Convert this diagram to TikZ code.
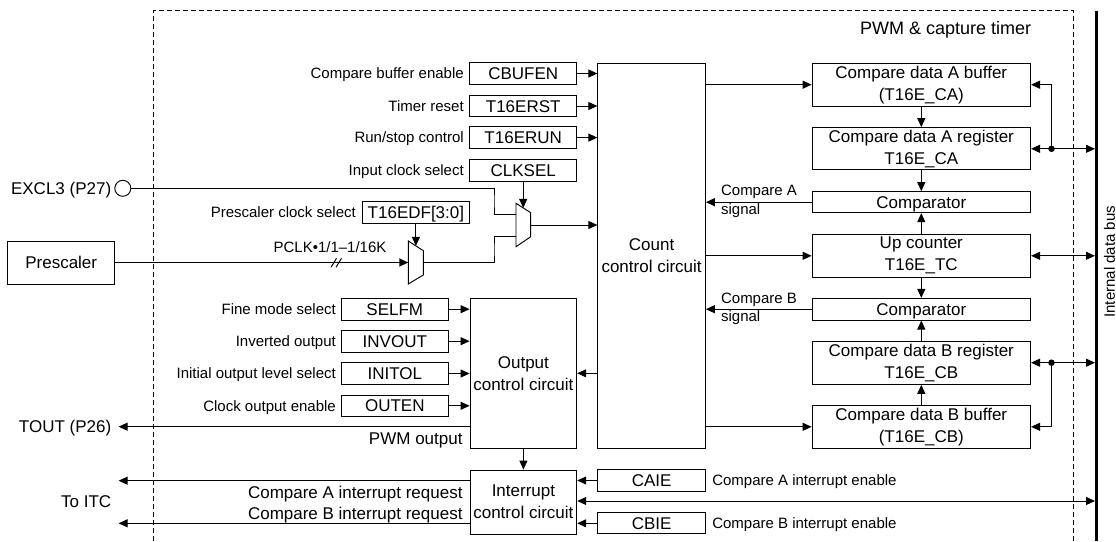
\documentclass[tikz,border=0pt]{standalone}
\usepackage{fontspec}
\setmainfont{Liberation Sans}
\usetikzlibrary{arrows.meta,calc}
\newcommand\fsS{\fontsize{15}{18.4}\selectfont}
\newcommand\fsN{\fontsize{17}{22}\selectfont}
\newcommand\fsT{\fontsize{18}{22}\selectfont}
\begin{document}
\begin{tikzpicture}[x=1pt,y=-1pt,
  line width=0.95pt,
  box/.style={draw, inner sep=0pt, align=center, font=\fsN},
  reg/.style={box, minimum width=107pt, minimum height=21.6pt, text height=12.2pt, text depth=0pt},
  big/.style={box, minimum width=218.5pt},
  lbl/.style={font=\fsS, inner sep=0pt, anchor=east, text height=10.7pt, text depth=0pt},
  lblN/.style={font=\fsN, inner sep=0pt, anchor=east, text height=12.2pt, text depth=0pt},
  arr/.style={-{Triangle[length=9pt,width=8pt]}},
  barr/.style={{Triangle[length=9pt,width=8pt]}-{Triangle[length=9pt,width=8pt]}},
  frame/.style={dash pattern=on 5pt off 3pt, line width=0.8pt},
  dot/.style={circle, fill, inner sep=0pt, minimum size=6.5pt},
]
\useasboundingbox (0,0) rectangle (1116,541);

% frame and bus
\draw[frame] (153.1,541) -- (153.1,10.7) -- (1073.4,10.7) -- (1073.4,541);
\node[font=\fsT, anchor=east, inner sep=0pt, text height=12.9pt, text depth=0pt] (title) at (1031.7,28.3) {PWM \& capture timer};
\coordinate (bustop) at (1096.7,11);
\coordinate (busbot) at (1096.7,541);
\coordinate (busL) at (1095,0);
\draw[line width=3.3pt] (bustop) -- (busbot);
\node[font=\fsS, rotate=90, inner sep=0pt, text height=10.9pt, text depth=0pt] (buslbl) at (1109.3,261.7) {Internal data bus};

% register boxes left of count circuit
\node[reg] (cbufen) at (523.2,73.5) {CBUFEN};
\node[reg] (t16erst) at (523.2,106) {T16ERST};
\node[reg] (t16erun) at (523.2,137.6) {T16ERUN};
\node[reg] (clksel) at (523.2,170.2) {CLKSEL};
\node[lbl] at ([xshift=-5pt]cbufen.west) {Compare buffer enable};
\node[lbl] at ([xshift=-5pt]t16erst.west) {Timer reset};
\node[lbl] at ([xshift=-5pt]t16erun.west) {Run/stop control};
\node[lbl] at ([xshift=-5pt]clksel.west) {Input clock select};

\node[reg, minimum width=106.3pt] (t16edf) at (415.9,212.5) {T16EDF[3:0]};
\node[lbl] at ([xshift=-6pt]t16edf.west) {Prescaler clock select};

% main blocks
\node[box, minimum width=107.5pt, minimum height=385pt] (count) at (651.6,255.8) {Count\\control circuit};
\node[box, minimum width=106.7pt, minimum height=150pt] (outctl) at (523.4,373.3) {Output\\control circuit};
\node[box, minimum width=106.7pt, minimum height=64.3pt] (intctl) at (523.4,502.2) {Interrupt\\control circuit};
\node[box, minimum width=107.5pt, minimum height=43pt] (prescaler) at (61.2,262.5) {Prescaler};

% output control registers
\node[reg, minimum width=106.8pt] (selfm) at (394.8,309.2) {SELFM};
\node[reg, minimum width=106.8pt] (invout) at (394.8,341.2) {INVOUT};
\node[reg, minimum width=106.8pt] (initol) at (394.8,373.5) {INITOL};
\node[reg, minimum width=106.8pt] (outen) at (394.8,405.8) {OUTEN};
\node[lbl] at ([xshift=-4.6pt]selfm.west) {Fine mode select};
\node[lbl] at ([xshift=-4.6pt]invout.west) {Inverted output};
\node[lbl] at ([xshift=-4.6pt]initol.west) {Initial output level select};
\node[lbl] at ([xshift=-4.6pt]outen.west) {Clock output enable};

% interrupt enable registers
\node[reg, minimum width=107.5pt, minimum height=21.3pt] (caie) at (651.6,480.5) {CAIE};
\node[reg, minimum width=107.5pt, minimum height=21.3pt] (cbie) at (651.6,523.3) {CBIE};
\node[lbl, anchor=west] at (711.8,480.5) {Compare A interrupt enable};
\node[lbl, anchor=west] at (711.8,523.3) {Compare B interrupt enable};

% right column
\node[big, minimum height=42.7pt] (bufA) at (921.3,84.7) {Compare data A buffer\\(T16E\_CA)};
\node[big, minimum height=42.3pt] (regA) at (921.3,148.8) {Compare data A register\\T16E\_CA};
\node[big, minimum height=21pt, text height=12.2pt, text depth=0pt] (cmpA) at (921.3,202.2) {Comparator};
\node[big, minimum height=43pt] (cnt) at (921.3,255.8) {Up counter\\T16E\_TC};
\node[big, minimum height=21.7pt, text height=12.2pt, text depth=0pt] (cmpB) at (921.3,309.2) {Comparator};
\node[big, minimum height=43.3pt] (regB) at (921.3,362.7) {Compare data B register\\T16E\_CB};
\node[big, minimum height=43pt] (bufB) at (921.3,426.8) {Compare data B buffer\\(T16E\_CB)};

\node[font=\fsS, inner sep=0pt, anchor=west, align=left] (sigA) at (720.6,201.5) {Compare A\\signal};
\node[font=\fsS, inner sep=0pt, anchor=west, align=left] (sigB) at (720.6,308.6) {Compare B\\signal};

% register -> count arrows
\draw[arr] (cbufen.east) -- (cbufen.east -| count.west);
\draw[arr] (t16erst.east) -- (t16erst.east -| count.west);
\draw[arr] (t16erun.east) -- (t16erun.east -| count.west);

% count -> right column
\draw[arr] (bufA.west -| count.east) -- (bufA.west);
\draw[arr] (cnt.west -| count.east) -- (cnt.west);
\draw[arr] (bufB.west -| count.east) -- (bufB.west);
\draw[arr] (cmpA.west) -- (cmpA.west -| count.east);
\draw[arr] (cmpB.west) -- (cmpB.west -| count.east);

% vertical arrows in right column
\draw[arr] (bufA.south) -- (regA.north);
\draw[arr] (regA.south) -- (cmpA.north);
\draw[arr] (cnt.north) -- (cmpA.south);
\draw[arr] (cnt.south) -- (cmpB.north);
\draw[arr] (regB.north) -- (cmpB.south);
\draw[arr] (bufB.north) -- (regB.south);

% bus connections
\node[dot] (dA) at (1051.5,148.8) {};
\node[dot] (dB) at (1051.5,362.7) {};
\draw[barr] (regA.east) -- (regA.east -| busL);
\draw[arr] (dA.center) |- (bufA.east);
\draw[barr] (cnt.east) -- (cnt.east -| busL);
\draw[barr] (regB.east) -- (regB.east -| busL);
\draw[arr] (dB.center) |- (bufB.east);
\coordinate (ib) at (1095,501);
\draw[barr] (ib -| intctl.east) -- (ib);

% output control
\draw[arr] (selfm.east) -- (selfm.east -| outctl.west);
\draw[arr] (invout.east) -- (invout.east -| outctl.west);
\draw[arr] (initol.east) -- (initol.east -| outctl.west);
\draw[arr] (outen.east) -- (outen.east -| outctl.west);
\draw[arr] (outctl.east -| count.west) -- (outctl.east);
\draw[arr] (outctl.south) -- (intctl.north);
\coordinate (toutend) at (118.6,426.7);
\draw[arr] (toutend -| outctl.west) -- (toutend);
\node[lblN] (tout) at (111.7,426.7) {TOUT (P26)};
\node[lblN] (pwmout) at (463,438.3) {PWM output};

% interrupt
\draw[arr] (caie.west) -- (caie.west -| intctl.east);
\draw[arr] (cbie.west) -- (cbie.west -| intctl.east);
\coordinate (reqA) at (118.6,480.7);
\coordinate (reqB) at (118.6,523.3);
\draw[arr] (reqA -| intctl.west) -- (reqA);
\draw[arr] (reqB -| intctl.west) -- (reqB);
\node[lblN] (reqAl) at (463,492.3) {Compare A interrupt request};
\node[lblN] (reqBl) at (463,513.3) {Compare B interrupt request};
\node[lblN] (toitc) at (111.7,501.7) {To ITC};

% multiplexers
\coordinate (m1tl) at (408.3,241);
\coordinate (m1tr) at (423.3,250.7);
\coordinate (m1br) at (423.3,275);
\coordinate (m1bl) at (408.3,284);
\draw (m1tl) -- (m1tr) -- (m1br) -- (m1bl) -- cycle;
\coordinate (m1in) at (408.3,262.5);
\coordinate (m1out) at (423.3,262.5);
\coordinate (m2tl) at (516,203.3);
\coordinate (m2tr) at (530.7,212.7);
\coordinate (m2br) at (530.7,236.7);
\coordinate (m2bl) at (516,246.7);
\draw (m2tl) -- (m2tr) -- (m2br) -- (m2bl) -- cycle;
\coordinate (m2a) at (516,214.3);
\coordinate (m2b) at (516,236);
\coordinate (m2out) at (530.7,225);

\draw[arr] (clksel.south) -- (clksel.south |- 0,207.9);
\draw[arr] (t16edf.south) -- (t16edf.south |- 0,245.9);
\draw[arr] (m2out) -- (m2out -| count.west);

% external clock input
\node[lblN] (excllbl) at (111.7,188.3) {EXCL3 (P27)};
\node[circle, draw, minimum size=16pt, inner sep=0pt] (excl) at (122.8,188.3) {};
\draw (excl.east) -| (494,201) |- (m2a);
\draw (m1out) -| (494,250) |- (m2b);

% prescaler path
\draw[arr, line width=1.8pt] (prescaler.east) -- (m1in);
\draw (331,267.3) -- (336.5,258.3);
\draw (336,267.3) -- (341.5,258.3);
\node[font=\fsS, inner sep=0pt] (pclk) at (330,247.3) {PCLK•1/1–1/16K};
\end{tikzpicture}
\end{document}
